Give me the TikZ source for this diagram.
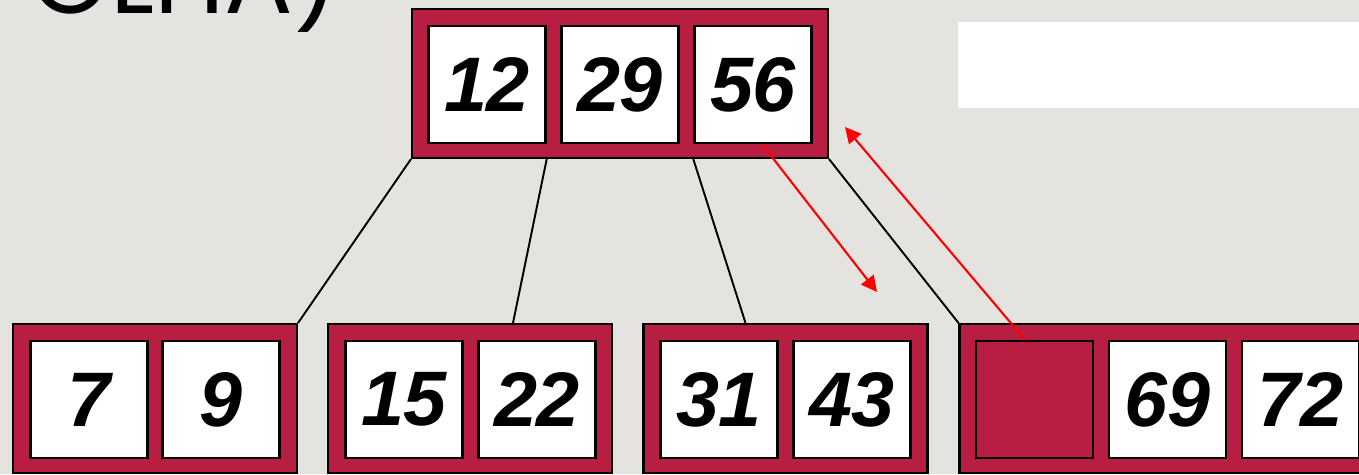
\documentclass[tikz,border=0pt]{standalone}
\usepackage{fontspec}
\setmainfont{Liberation Sans}
\newfontfamily\titlefont{Poppins}
\usetikzlibrary{arrows.meta}

\definecolor{bgpaper}{RGB}{229,227,223}
\definecolor{nodered}{RGB}{184,30,66}

\tikzset{
  bnode/.style={draw=black, line width=1.2pt, fill=nodered, minimum width=#1, minimum height=2.98cm, inner sep=0pt},
  bkey/.style={draw=black, line width=1.4pt, fill=white, minimum size=2.34cm, inner sep=0pt,
    font=\fontsize{44}{48}\selectfont\bfseries\itshape},
  emptykey/.style={bkey, fill=nodered},
  link/.style={line width=1.1pt},
  ptr/.style={red, line width=1.2pt, -{Triangle[length=9pt,width=9pt]}}
}

\begin{document}
\begin{tikzpicture}[x=0.02cm, y=-0.02cm]

\useasboundingbox (0,0) rectangle (1359,474);
\fill[bgpaper] (0,0) rectangle (1359,474);
\clip (0,0) rectangle (1359,474);

% Title (cut at the top) and blank box
\node[anchor=base east, inner sep=0pt, font=\titlefont\fontsize{58}{58}\selectfont] (title) at (340,13) {FOLHA)};
\fill[white] (958,22) rectangle (1359,108);

% Root
\node[bnode=8.32cm] (root) at (620,83.5) {};
\node[bkey] (r1) at (487,84.5) {12};
\node[bkey] (r2) at (620,84.5) {29};
\node[bkey] (r3) at (753,84.5) {56};

% Leaves
\node[bnode=5.68cm] (leafA) at (155,398.5) {};
\node[bkey] (a1) at (89,399.5) {7};
\node[bkey] (a2) at (221,399.5) {9};

\node[bnode=5.68cm] (leafB) at (470,398.5) {};
\node[bkey] (b1) at (404,399.5) {15};
\node[bkey] (b2) at (537,399.5) {22};

\node[bnode=5.68cm] (leafC) at (785.5,398.5) {};
\node[bkey] (c1) at (719,399.5) {31};
\node[bkey] (c2) at (852,399.5) {43};

\node[bnode=8.32cm] (leafD) at (1167.5,398.5) {};
\node[emptykey] (d1) at (1034.5,399.5) {};
\node[bkey] (d2) at (1167.5,399.5) {69};
\node[bkey] (d3) at (1300.5,399.5) {72};

% Child links
\draw[link] (root.south west) -- (leafA.north east);
\draw[link] (r1.east |- root.south) -- ([xshift=0.86cm]leafB.north);
\draw[link] (r3.west |- root.south) -- ([xshift=-0.8cm]leafC.north);
\draw[link] (root.south east) -- (leafD.north west);

% Red pointers
\coordinate (downtip) at (877,292);
\coordinate (uptip) at (845,127);
\draw[ptr] ([xshift=0.18cm]r3.south) -- (downtip);
\draw[ptr] ([xshift=-0.19cm]d1.north) -- (uptip);

\end{tikzpicture}
\end{document}
